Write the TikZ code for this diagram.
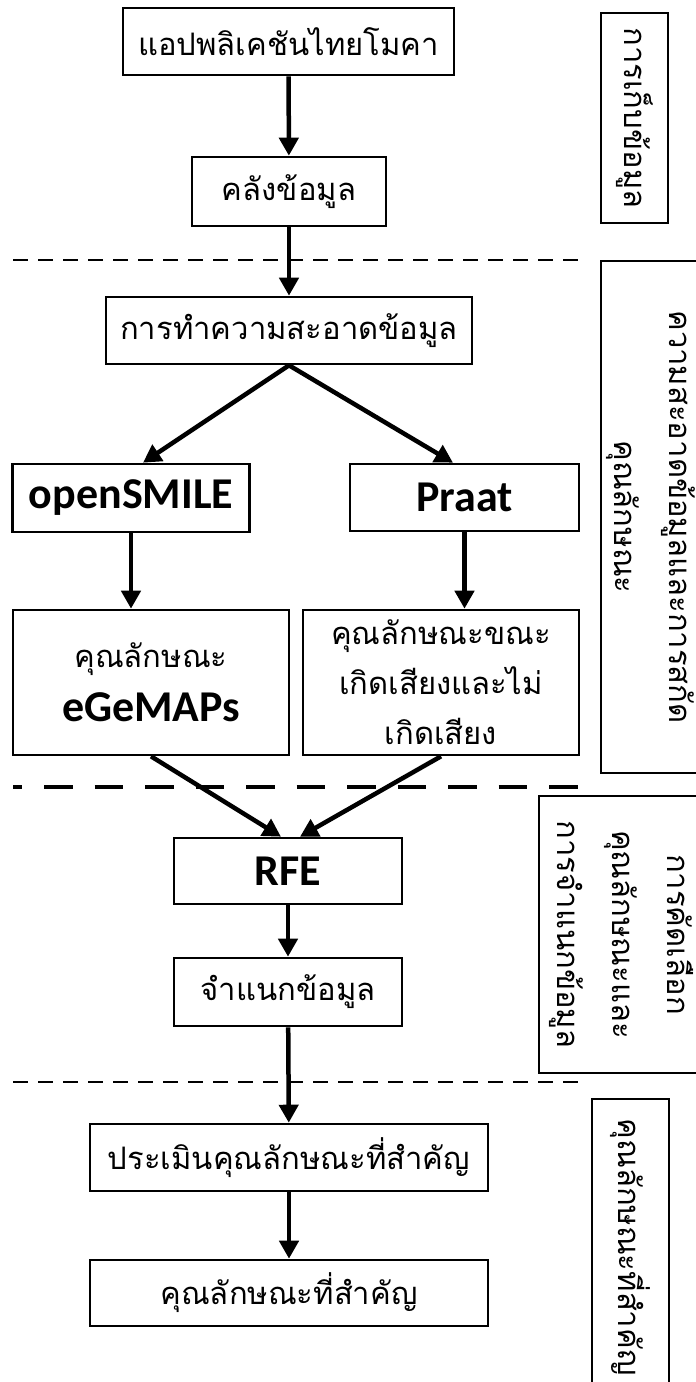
\documentclass[tikz,border=0pt]{standalone}
\usepackage{fontspec}
\newfontfamily\thai[Script=Thai]{Loma}
\newfontfamily\carl{Carlito}
\usetikzlibrary{arrows.meta}
\begin{document}
\begin{tikzpicture}[x=1pt,y=-1pt,
  box/.style={draw, line width=2.6pt, inner sep=0pt, align=center, font=\thai\fontsize{31}{50}\selectfont},
  lat/.style={font=\carl\bfseries\fontsize{44}{50}\selectfont},
  side/.style={draw, line width=2.2pt, rotate=-90, inner sep=0pt, align=center, font=\thai\fontsize{31}{55}\selectfont},
  arr/.style={line width=4.5pt, -{Triangle[width=19pt,length=18pt]}},
  thindash/.style={line width=2.5pt, dash pattern=on 15pt off 10pt},
  thickdash/.style={line width=4.5pt, dash pattern=on 28.5pt off 22pt, dash phase=19.5pt}]
\clip (0,0) rectangle (696,1382);
\fill[white] (0,0) rectangle (696,1382);
% left flow
\node[box, minimum width=331pt, minimum height=67pt] (A) at (288.5,41.5) {แอปพลิเคชันไทยโมคา};
\node[box, minimum width=194pt, minimum height=69pt] (B) at (289,191.5) {คลังข้อมูล};
\node[box, minimum width=366pt, minimum height=67pt] (C) at (289,330.5) {การทำความสะอาดข้อมูล};
\node[box, lat, minimum width=237pt, minimum height=68pt] (D) at (131,498) {openSMILE};
\node[box, lat, minimum width=229pt, minimum height=67pt] (E) at (464.5,497.5) {Praat};
\node[box, minimum width=276pt, minimum height=145pt] (F) at (151,682.5) {คุณลักษณะ\\[4pt]{\carl\bfseries\fontsize{44}{50}\selectfont eGeMAPs}};
\node[box, minimum width=276pt, minimum height=145pt] (G) at (441,682.5) {คุณลักษณะขณะ\\เกิดเสียงและไม่\\เกิดเสียง};
\node[box, lat, minimum width=228pt, minimum height=66pt] (H) at (288,871) {RFE};
\node[box, minimum width=228pt, minimum height=68pt] (I) at (288,992) {จำแนกข้อมูล};
\node[box, minimum width=398pt, minimum height=67pt] (J) at (289,1157.5) {ประเมินคุณลักษณะที่สำคัญ};
\node[box, minimum width=398pt, minimum height=66pt] (K) at (289,1293) {คุณลักษณะที่สำคัญ};
% side boxes
\node[side, minimum width=210pt, minimum height=67pt] (S1) at (634.5,118) {การเก็บข้อมูล};
\node[side, minimum width=512pt, minimum height=100pt] (S2) at (651,517) {ความสะอาดข้อมูลและการสกัด\\คุณลักษณะ};
\node[side, minimum width=277pt, minimum height=164pt] (S3) at (621,934.5) {การคัดเลือก\\คุณลักษณะและ\\การจำแนกข้อมูล};
\node[side, minimum width=296pt, minimum height=77pt] (S4) at (630.5,1247) {คุณลักษณะที่สำคัญ};
% dashed separators
\coordinate (d1a) at (13,260); \coordinate (d1b) at (579,260);
\coordinate (d2a) at (13,787); \coordinate (d2b) at (579,787);
\coordinate (d3a) at (13,1082); \coordinate (d3b) at (579,1082);
\draw[thindash] (d1a) -- (d1b);
\draw[thickdash] (d2a) -- (d2b);
\draw[thindash] (d3a) -- (d3b);
% arrows
\draw[arr] (A) -- (B);
\draw[arr] (B) -- (C);
\draw[arr] (C.south) -- ([xshift=12pt]D.north);
\draw[arr] (C.south) -- ([xshift=-11.5pt]E.north);
\draw[arr] (D.south) -- (D.south |- F.north);
\draw[arr] (E.south) -- (E.south |- G.north);
\draw[arr] (F.south) -- ([xshift=-7pt]H.north);
\draw[arr] (G.south) -- ([xshift=12pt]H.north);
\draw[arr] (H) -- (I);
\draw[arr] (I) -- (J);
\draw[arr] (J) -- (K);
\end{tikzpicture}
\end{document}
